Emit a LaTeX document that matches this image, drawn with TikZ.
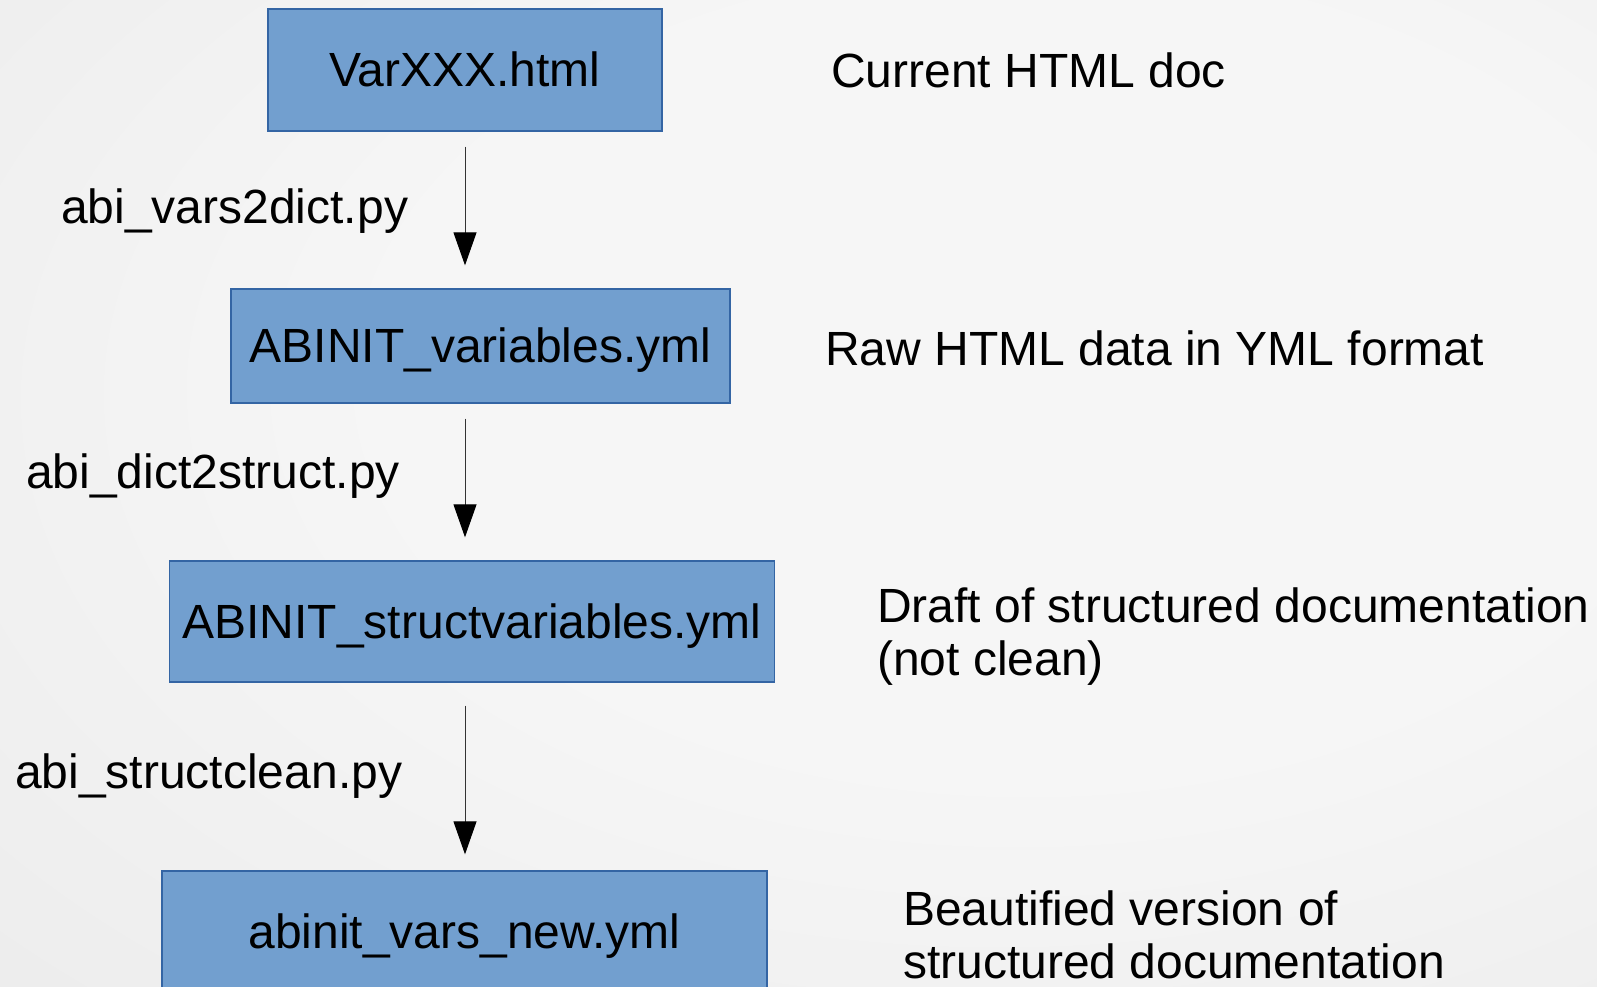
\documentclass[tikz,border=0pt]{standalone}
\usepackage{fontspec}
\setmainfont{Liberation Sans}
\usetikzlibrary{arrows.meta}
\definecolor{boxfill}{HTML}{729FCF}
\definecolor{boxline}{HTML}{3465A4}
\definecolor{bgin}{HTML}{F6F6F6}
\definecolor{bgout}{HTML}{DEDEDE}
\pgfdeclareradialshading{bgshade}{\pgfpoint{10bp}{8bp}}{color(0bp)=(bgin); color(20bp)=(bgin); color(75bp)=(bgout)}
\tikzset{
  fbox/.style={draw=boxline, line width=1.3pt, fill=boxfill, inner sep=0pt,
    text height=33pt, text depth=0pt},
  lbl/.style={anchor=base west, inner sep=0pt},
  arr/.style={draw=black!80, line width=1pt, -{Triangle[length=33pt,width=23pt,color=black]}}
}
\begin{document}
\begin{tikzpicture}[x=1pt,y=-1pt,font=\fontsize{48}{53}\selectfont]
\useasboundingbox (0,0) rectangle (1597,986);
\clip (0,0) rectangle (1597,986);
\shade[shading=bgshade] (0,0) rectangle (1597,986);

\node[fbox, minimum width=394pt, minimum height=122pt] (b1) at (465,70) {VarXXX.html};
\node[fbox, minimum width=499pt, minimum height=114pt] (b2) at (480.5,346) {ABINIT\_variables.yml};
\node[fbox, minimum width=605pt, minimum height=121pt] (b3) at (472,621.5) {ABINIT\_structvariables.yml};
\node[fbox, minimum width=605pt, minimum height=121pt] (b4) at (464.5,931.5) {abinit\_vars\_new.yml};

\node[lbl] (l1) at (61,223) {abi\_vars2dict.py};
\node[lbl] (l2) at (26,488) {abi\_dict2struct.py};
\node[lbl] (l3) at (15,788) {abi\_structclean.py};

\node[lbl] (d1) at (831,87) {Current HTML doc};
\node[lbl] (d2) at (825,365) {Raw HTML data in YML format};
\node[lbl] (d3a) at (877,622) {Draft of structured documentation};
\node[lbl] (d3b) at (877,675) {(not clean)};
\node[lbl] (d4a) at (903,925) {Beautified version of};
\node[lbl] (d4b) at (903,978) {structured documentation};

\draw[arr] ([yshift=-15pt]b1.south) -- ([yshift=23pt]b1.south |- b2.north);
\draw[arr] ([yshift=-15pt]b1.south |- b2.south) -- ([yshift=23pt]b1.south |- b3.north);
\draw[arr] ([yshift=-23pt]b1.south |- b3.south) -- ([yshift=16pt]b1.south |- b4.north);
\end{tikzpicture}
\end{document}
